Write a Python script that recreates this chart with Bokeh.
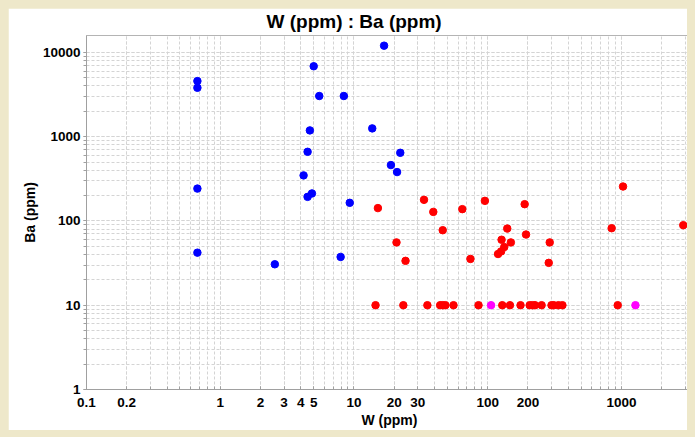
from bokeh.plotting import figure
from bokeh.models import FixedTicker, Range1d
from bokeh.embed import file_html
from bokeh.resources import INLINE

# ---- data ----
blue_w = [16.8, 5.0, 0.675, 0.675, 5.5, 8.4, 4.68, 13.7, 4.5, 22.2, 18.9, 21.0, 4.2, 0.675, 4.85, 4.5, 9.3, 0.675, 2.56, 7.95]
blue_ba = [12000, 6840, 4560, 3800, 3035, 3035, 1186, 1253, 661, 643, 460, 380, 347, 242, 212, 193, 164, 42, 30.6, 37.4]

red_w = [15.1, 20.8, 33.4, 39.2, 64.6, 95.3, 189, 1028, 2900, 845, 46.1, 140, 193.5, 127, 149, 291, 133, 126, 119.5, 24.3, 74.3, 286,
         14.5, 23.4, 35.4, 44.1, 46.1, 48.3, 55.5, 85.4, 128.5, 146.7, 176, 206, 216, 226, 253, 300, 312, 338, 362, 938]
red_ba = [142, 55.6, 178, 128, 138, 173, 158, 256, 89, 82, 77.6, 81.2, 69, 59.8, 55.6, 55.6, 49, 43.5, 40.5, 33.6, 35.4, 31.8,
          10, 10, 10, 10, 10, 10, 10, 10, 10, 10, 10, 10, 10, 10, 10, 10, 10, 10, 10, 10]

mag_w = [106, 1273]
mag_ba = [10, 10]

x_ticks = [0.1, 0.2, 1, 2, 3, 4, 5, 10, 20, 30, 100, 200, 1000]
x_tick_labels = ["0.1", "0.2", "1", "2", "3", "4", "5", "10", "20", "30", "100", "200", "1000"]
y_ticks = [1, 10, 100, 1000, 10000]
y_tick_labels = ["1", "10", "100", "1000", "10000"]

title_text = "W (ppm) : Ba (ppm)"
x_label = "W (ppm)"
y_label = "Ba (ppm)"

FONT = "Liberation Sans"

x_minor = [k * 10.0 ** n for n in range(-1, 4) for k in range(1, 10)]
y_minor = [k * 10.0 ** n for n in range(0, 5) for k in range(1, 10)]

p = figure(width=687, height=422, x_axis_type="log", y_axis_type="log",
           x_range=Range1d(0.1, 3400), y_range=Range1d(1, 15850),
           output_backend="svg", toolbar_location=None,
           min_border_left=78, min_border_right=3, min_border_top=26, min_border_bottom=39,
           background_fill_color="white", border_fill_color="white")

p.title.text = title_text
p.title.align = "left"
p.title.vertical_align = "top"
p.title.text_font = FONT
p.title.text_font_size = "19px"
p.title.text_font_style = "bold"
p.title.text_color = "black"
p.title.standoff = 4
p.title.offset = 180

p.outline_line_color = "#b4b4b4"
p.outline_line_width = 1

xt = FixedTicker(ticks=x_ticks, minor_ticks=x_minor)
yt = FixedTicker(ticks=y_ticks, minor_ticks=y_minor)
p.xaxis.ticker = xt
p.yaxis.ticker = yt
p.xgrid.ticker = xt
p.ygrid.ticker = yt
p.xaxis.major_label_overrides = {t: l for t, l in zip(x_ticks, x_tick_labels)}
p.yaxis.major_label_overrides = {t: l for t, l in zip(y_ticks, y_tick_labels)}

for ax in (p.xaxis, p.yaxis):
    ax.axis_line_color = "#a0a0a0"
    ax.major_tick_line_color = "#a0a0a0"
    ax.minor_tick_line_color = "#a0a0a0"
    ax.major_label_text_font = FONT
    ax.major_label_text_font_size = "13.5px"
    ax.major_label_text_font_style = "bold"
    ax.major_label_text_color = "black"
    ax.axis_label_text_font = FONT
    ax.axis_label_text_font_size = "14px"
    ax.axis_label_text_font_style = "bold"
    ax.axis_label_text_color = "black"

p.xaxis.axis_label = x_label
p.yaxis.axis_label = y_label
p.xaxis.major_tick_in = 3
p.xaxis.major_tick_out = 0
p.xaxis.minor_tick_in = 3
p.xaxis.minor_tick_out = 0
p.xaxis.major_label_standoff = 8
p.xaxis.axis_label_standoff = 2
p.yaxis.major_tick_in = 0
p.yaxis.major_tick_out = 3
p.yaxis.minor_tick_in = 0
p.yaxis.minor_tick_out = 3
p.yaxis.major_label_standoff = 3
p.yaxis.axis_label_standoff = 2

for g in (p.xgrid, p.ygrid):
    g.grid_line_color = "#d4d4d4"
    g.grid_line_dash = "3 2"
    g.grid_line_width = 1
    g.minor_grid_line_color = "#d4d4d4"
    g.minor_grid_line_dash = "3 2"
    g.minor_grid_line_width = 1

p.scatter(blue_w, blue_ba, size=7.5, fill_color="#0000ff", line_color="#0000ff")
p.scatter(red_w, red_ba, size=7.5, fill_color="#ff0000", line_color="#ff0000")
p.scatter(mag_w, mag_ba, size=7.5, fill_color="#ff00ff", line_color="#ff00ff")

html = file_html(p, INLINE).replace("<body>", '<body style="background-color:#eee8ca; margin:8px;">')
open("out.html", "w").write(html)
